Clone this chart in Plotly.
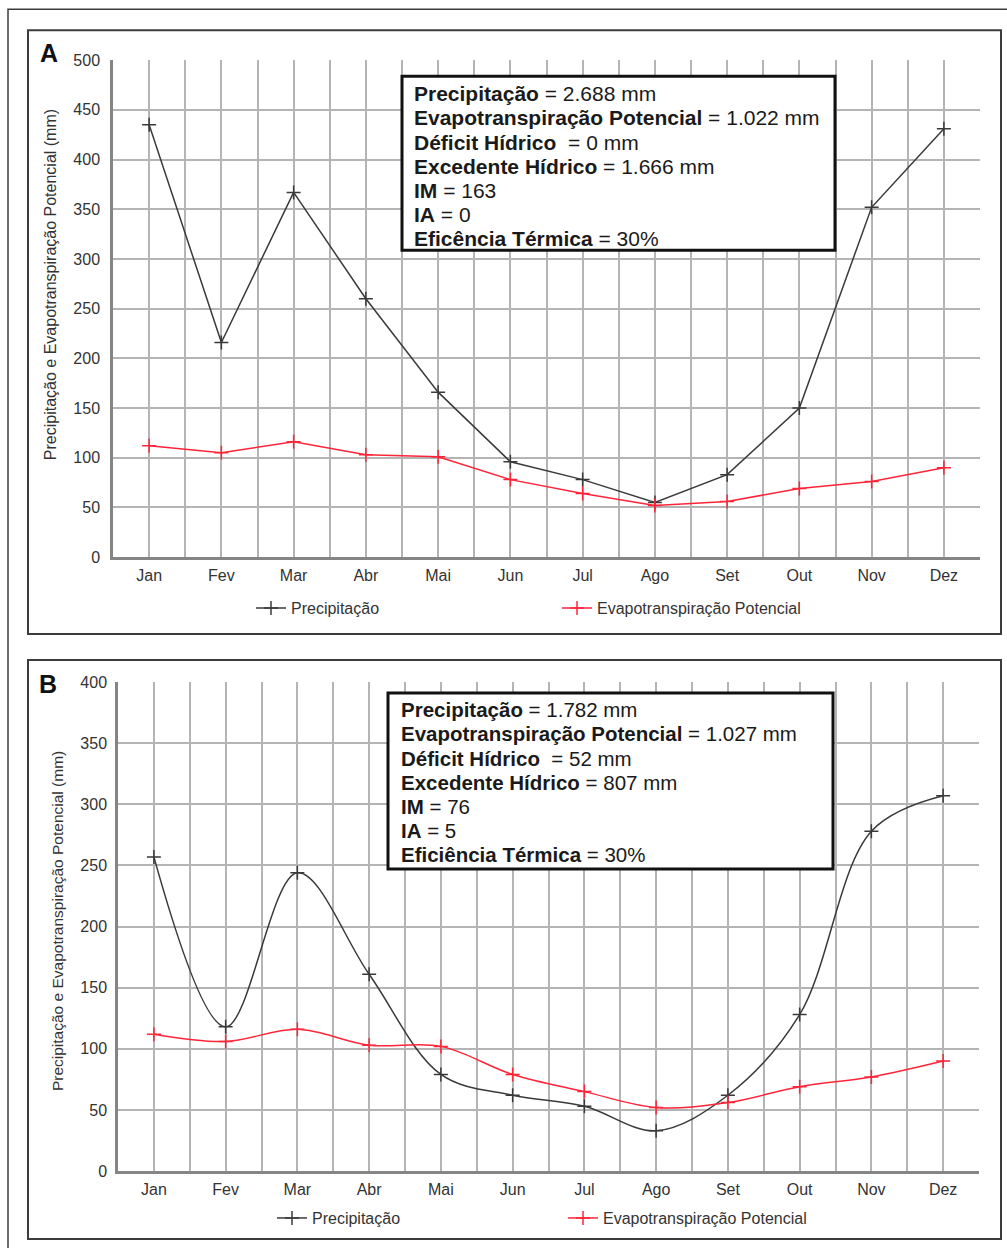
import plotly.graph_objects as go

# ---- data -----------------------------------------------------------------
months = ["Jan", "Fev", "Mar", "Abr", "Mai", "Jun", "Jul", "Ago", "Set", "Out", "Nov", "Dez"]

precip_a = [435, 216, 367, 260, 166, 96, 78, 55, 83, 150, 352, 431]
etp_a = [112, 105, 116, 103, 101, 78, 64, 52, 56, 69, 76, 90]

precip_b = [257, 118, 244, 161, 79, 62, 53, 33, 62, 128, 278, 307]
etp_b = [112, 106, 116, 103, 102, 79, 65, 52, 56, 69, 77, 90]

yticks_a = list(range(0, 501, 50))
yticks_b = list(range(0, 401, 50))

summary_a = [
    ("Precipitação", " = 2.688 mm"),
    ("Evapotranspiração Potencial", " = 1.022 mm"),
    ("Déficit Hídrico", "  = 0 mm"),
    ("Excedente Hídrico", " = 1.666 mm"),
    ("IM", " = 163"),
    ("IA", " = 0"),
    ("Eficência Térmica", " = 30%"),
]
summary_b = [
    ("Precipitação", " = 1.782 mm"),
    ("Evapotranspiração Potencial", " = 1.027 mm"),
    ("Déficit Hídrico", "  = 52 mm"),
    ("Excedente Hídrico", " = 807 mm"),
    ("IM", " = 76"),
    ("IA", " = 5"),
    ("Eficiência Térmica", " = 30%"),
]

# ---- page geometry ----------------------------------------------------------
W, H = 1007, 1248
FONT = "Liberation Sans, Arial, sans-serif"
GRID = "#b4b4b4"
AXIS = "#858585"
TXT = "#333333"
BLACK_LINE = "#3a3a3a"
RED_LINE = "#ff2438"

# vertical layout is laid out on a 1231 px tall sheet sitting 8 px below the top
Y_OFF, Y_SCALE = 7.8, 0.9865


def xp(px):
    return px / W


def yp(py):
    return 1 - ((py - Y_OFF) / Y_SCALE) / H


xpos = list(range(len(months)))
boundaries = [i - 0.5 for i in range(len(months) + 1)]

fig = go.Figure()


def add_series(y, name, color, xa, ya, legend, shape):
    fig.add_trace(go.Scatter(
        x=xpos, y=y, name=name, mode="lines+markers",
        line=dict(color=color, width=1.5, shape=shape, smoothing=1.0),
        marker=dict(symbol="cross-thin", size=10, line=dict(width=1.5, color=color)),
        xaxis=xa, yaxis=ya, legend=legend,
    ))


add_series(precip_a, "Precipitação", BLACK_LINE, "x", "y", "legend", "linear")
add_series(etp_a, "Evapotranspiração Potencial", RED_LINE, "x", "y", "legend", "linear")
add_series(precip_b, "Precipitação", BLACK_LINE, "x2", "y2", "legend2", "spline")
add_series(etp_b, "Evapotranspiração Potencial", RED_LINE, "x2", "y2", "legend2", "spline")


def xaxis_style(domain):
    return dict(
        domain=domain, range=[-0.5, len(months) - 0.5],
        tickmode="array", tickvals=xpos, ticktext=months,
        showgrid=True, gridcolor=GRID, gridwidth=1.5,
        minor=dict(tickmode="array", tickvals=boundaries, showgrid=True,
                   gridcolor=GRID, gridwidth=1.5),
        showline=True, linecolor=AXIS, linewidth=2.5,
        zeroline=False, ticks="", ticklabelstandoff=2,
        tickfont=dict(family=FONT, size=16, color=TXT),
        fixedrange=True,
    )


def yaxis_style(domain, ticks, anchor, standoff):
    return dict(
        domain=domain, range=[ticks[0], ticks[-1]],
        tickmode="array", tickvals=ticks,
        showgrid=True, gridcolor=GRID, gridwidth=1.5,
        showline=True, linecolor=AXIS, linewidth=2.5,
        zeroline=False, ticks="", ticklabelstandoff=standoff,
        tickfont=dict(family=FONT, size=16, color=TXT),
        anchor=anchor, fixedrange=True,
    )


legend_common = dict(
    orientation="h", xanchor="left", yanchor="middle",
    font=dict(family=FONT, size=16, color=TXT),
    bgcolor="rgba(0,0,0,0)", borderwidth=0,
    entrywidthmode="pixels", traceorder="normal",
)

fig.update_layout(
    width=W, height=H, autosize=False,
    margin=dict(l=0, r=0, t=0, b=0, pad=0),
    paper_bgcolor="white", plot_bgcolor="white",
    font=dict(family=FONT, color=TXT),
    xaxis=xaxis_style([xp(113), xp(980)]),
    yaxis=yaxis_style([yp(557), yp(60)], yticks_a, "x", 7),
    xaxis2=dict(xaxis_style([xp(118), xp(979)]), anchor="y2"),
    yaxis2=yaxis_style([yp(1171), yp(682)], yticks_b, "x2", 5),
    legend=dict(legend_common, x=xp(251), y=yp(608), entrywidth=261),
    legend2=dict(legend_common, x=xp(272), y=yp(1218), entrywidth=246),
)

shapes = []
# outer frame (runs off the page on the right and bottom)
shapes.append(dict(type="rect", xref="paper", yref="paper",
                   x0=xp(8), x1=xp(1030), y0=yp(1290), y1=yp(9),
                   line=dict(color="#3c3c3c", width=1.5), layer="below"))
# panel frames
for top, bottom in [(30, 634), (660, 1239)]:
    shapes.append(dict(type="rect", xref="paper", yref="paper",
                       x0=xp(28), x1=xp(1001), y0=yp(bottom), y1=yp(top),
                       line=dict(color="#3c3c3c", width=2), layer="below"))
# summary boxes
for (l, t, r, b) in [(402, 76, 835, 250), (388, 693, 833, 869)]:
    shapes.append(dict(type="rect", xref="paper", yref="paper",
                       x0=xp(l), x1=xp(r), y0=yp(b), y1=yp(t),
                       fillcolor="white", line=dict(color="#111111", width=3),
                       layer="above"))

annotations = []
# panel letters
for letter, x, y in [("A", 49, 53), ("B", 48, 684)]:
    annotations.append(dict(text=f"<b>{letter}</b>", x=xp(x), y=yp(y),
                            xref="paper", yref="paper", showarrow=False,
                            xanchor="center", yanchor="middle",
                            font=dict(family=FONT, size=25, color="#111111")))
# y-axis titles
ytitle = "Precipitação e Evapotranspiração Potencial (mm)"
for x, y, size in [(50, 285, 16), (57, 921, 15.5)]:
    annotations.append(dict(text=ytitle, x=xp(x), y=yp(y), textangle=-90,
                            xref="paper", yref="paper", showarrow=False,
                            xanchor="center", yanchor="middle",
                            font=dict(family=FONT, size=size, color=TXT)))
# summary text lines
for lines, left, y0, size in [(summary_a, 412, 93.5, 21), (summary_b, 399, 709.5, 20.5)]:
    for i, (label, value) in enumerate(lines):
        annotations.append(dict(
            text=f"<b>{label}</b>{value.replace('  ', '&nbsp; ')}",
            x=xp(left), y=yp(y0 + i * 24.2), xref="paper", yref="paper",
            showarrow=False, xanchor="left", yanchor="middle",
            font=dict(family=FONT, size=size, color="#1a1a1a")))

fig.update_layout(shapes=shapes, annotations=annotations)

fig.write_html("out.html")
